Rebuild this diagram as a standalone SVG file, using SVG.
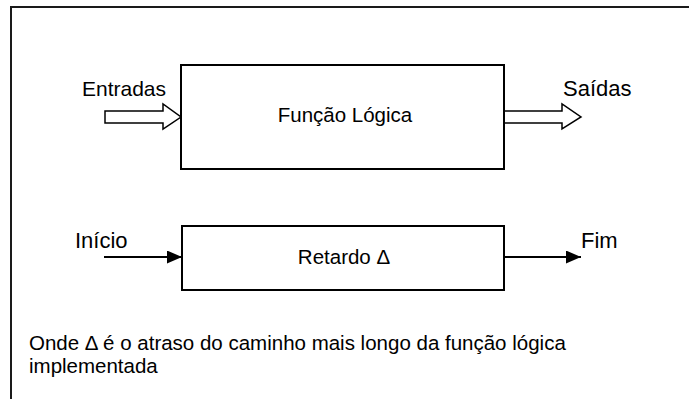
<svg xmlns="http://www.w3.org/2000/svg" width="689" height="399" viewBox="0 0 689 399">
  <style>
    .frame { fill: none; stroke: #1a1a1a; stroke-width: 2; }
    .box { fill: #ffffff; stroke: #000000; stroke-width: 2; }
    .hollow { fill: #ffffff; stroke: #000000; stroke-width: 1.5; stroke-linejoin: miter; }
    .wire { fill: none; stroke: #000000; stroke-width: 2; }
    .lbl { font-family: "Liberation Sans", Arial, sans-serif; fill: #000000; }
    .outer { font-size: 22px; }
    .inner { font-size: 20.5px; }
    .note { font-size: 20.5px; }
  </style>
  <defs>
    <marker id="head" viewBox="0 0 10 10" refX="10" refY="5" markerWidth="15" markerHeight="13" markerUnits="userSpaceOnUse" orient="auto" preserveAspectRatio="none">
      <path d="M0,0 L10,5 L0,10 Z" fill="#000000"/>
    </marker>
  </defs>

  <!-- page frame: top and left edges, the rest runs off the page -->
  <path class="frame" d="M11,399 V7 H689"/>

  <!-- connectors -->
  <g id="connectors">
    <!-- wide input arrow into the logic block -->
    <path class="hollow" d="M105,111 H163 V104 L181,117 L163,129 V123 H105 Z"/>
    <!-- wide output arrow out of the logic block -->
    <path class="hollow" d="M504,111 H562 V104 L581,117 L562,129 V123 H504 Z"/>
    <!-- start signal into the delay -->
    <line class="wire" x1="104" y1="257" x2="182" y2="257" marker-end="url(#head)"/>
    <!-- end signal out of the delay -->
    <line class="wire" x1="504" y1="257" x2="581" y2="257" marker-end="url(#head)"/>
  </g>

  <g id="logic">
    <rect class="box" x="181" y="65" width="323" height="104"/>
    <text class="lbl inner" x="345" y="122" text-anchor="middle">Função Lógica</text>
  </g>

  <g id="delay">
    <rect class="box" x="182" y="226" width="322" height="64"/>
    <text class="lbl inner" x="344" y="264" text-anchor="middle">Retardo Δ</text>
  </g>

  <g id="labels">
    <text class="lbl outer" x="82" y="96" style="font-size:21px">Entradas</text>
    <text class="lbl outer" x="563" y="96">Saídas</text>
    <text class="lbl outer" x="75" y="248">Início</text>
    <text class="lbl outer" x="581" y="248">Fim</text>
  </g>

  <g id="note">
    <text class="lbl note" x="29" y="350">Onde Δ é o atraso do caminho mais longo da função lógica</text>
    <text class="lbl note" x="29" y="373">implementada</text>
  </g>
</svg>
